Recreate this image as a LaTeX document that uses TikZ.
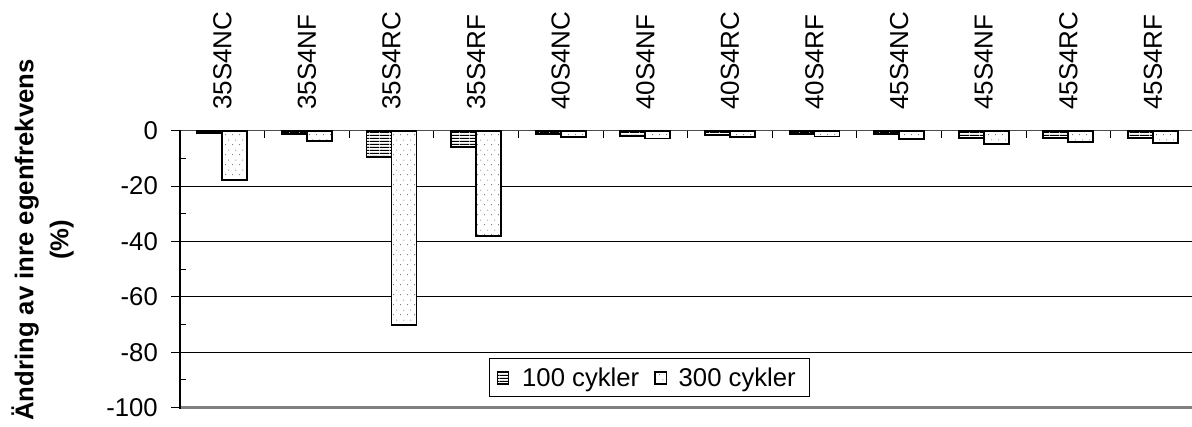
\documentclass[tikz,border=0pt]{standalone}
\usepackage{fontspec}
\setmainfont{Liberation Sans}
\usetikzlibrary{patterns}
\pgfdeclarepatternformonly{hstripes}{\pgfqpoint{0pt}{0pt}}{\pgfqpoint{10pt}{3pt}}{\pgfqpoint{10pt}{3pt}}{\pgfpathrectangle{\pgfqpoint{0pt}{0pt}}{\pgfqpoint{10pt}{1.4pt}}\pgfusepath{fill}}
\pgfdeclarepatternformonly{sparsedots}{\pgfqpoint{0pt}{0pt}}{\pgfqpoint{7pt}{10pt}}{\pgfqpoint{7pt}{10pt}}{\pgfpathcircle{\pgfqpoint{1.75pt}{2.5pt}}{0.6pt}\pgfpathcircle{\pgfqpoint{5.25pt}{7.5pt}}{0.6pt}\pgfusepath{fill}}
\tikzset{
  lbl/.style={font=\fontsize{25.7}{30}\selectfont, inner sep=0pt},
  catlbl/.style={font=\fontsize{26}{30}\selectfont, inner sep=0pt},
  grid/.style={black, line width=0.9pt},
  barA/.style={draw=black, line width=1.8pt, preaction={fill=white}, pattern=hstripes, pattern color=black},
  barB/.style={draw=black, line width=1.8pt, preaction={fill=white}, pattern=sparsedots, pattern color=black!60},
}
\begin{document}
\begin{tikzpicture}[x=1pt,y=-1pt]
\useasboundingbox[fill=white] (0,0) rectangle (1192,427);
% gridlines
\foreach \v in {20,40,60,80}{
  \draw[grid] (180,130.7+2.77*\v) -- (1192,130.7+2.77*\v);
}
\draw[gray, line width=2.6pt] (180,407.7) -- (1192,407.7);
% zero axis
\draw[black!70, line width=1.5pt] (180,130.7) -- (1192,130.7);
% bars
\foreach \i/\a/\b in {0/0.8/17.9, 1/1.3/3.7, 2/9.4/70.2, 3/5.9/38, 4/1.2/2.2, 5/1.9/2.8, 6/1.6/2.3, 7/1.3/2.1, 8/1.3/2.9, 9/2.6/4.9, 10/2.6/4.2, 11/2.7/4.3}{
  \pgfmathsetmacro{\L}{180+84.6*\i}
  \draw[barA] (\L+17.3,130.7) rectangle (\L+42.3,130.7+2.77*\a);
  \draw[barB] (\L+42.3,130.7) rectangle (\L+67.3,130.7+2.77*\b);
}
% category ticks
\foreach \k in {1,...,11}{
  \draw[black, line width=0.9pt] (180+84.6*\k,130.7) -- (180+84.6*\k,138.5);
}
% y axis
\draw[black, line width=2pt] (180,129.7) -- (180,408.7);
\foreach \v/\t in {0/0,20/-20,40/-40,60/-60,80/-80,100/-100}{
  \draw[black, line width=1pt] (171,130.7+2.77*\v) -- (180,130.7+2.77*\v);
  \node[lbl, anchor=east] (t\v) at (158,130.7+2.77*\v) {\t};
}
\foreach \v in {10,30,50,70,90}{
  \draw[black, line width=1pt] (180,130.7+2.77*\v) -- (186,130.7+2.77*\v);
}
% category labels
\foreach \i/\t in {0/35S4NC,1/35S4NF,2/35S4RC,3/35S4RF,4/40S4NC,5/40S4NF,6/40S4RC,7/40S4RF,8/45S4NC,9/45S4NF,10/45S4RC,11/45S4RF}{
  \node[catlbl, rotate=90, anchor=west] (c\i) at (180+84.6*\i+42.3,110) {\t};
}
% axis title
\node[lbl, rotate=90, align=center, font=\fontsize{25.7}{35}\selectfont\bfseries] (ytitle) at (42.5,240) {Ändring av inre egenfrekvens\\(\%)};
% legend
\node[draw=black, line width=0.9pt, fill=white, minimum width=320pt, minimum height=38pt, inner sep=0pt] (leg) at (649.3,377.6) {};
\draw[barA, line width=1.6pt] (497.5,372) rectangle (508.5,384);
\node[lbl, anchor=base west] (l1) at (522,386.7) {100 cykler};
\draw[barB, line width=1.6pt] (655,372) rectangle (666.5,384);
\node[lbl, anchor=base west] (l2) at (678.5,386.7) {300 cykler};
\end{tikzpicture}
\end{document}
